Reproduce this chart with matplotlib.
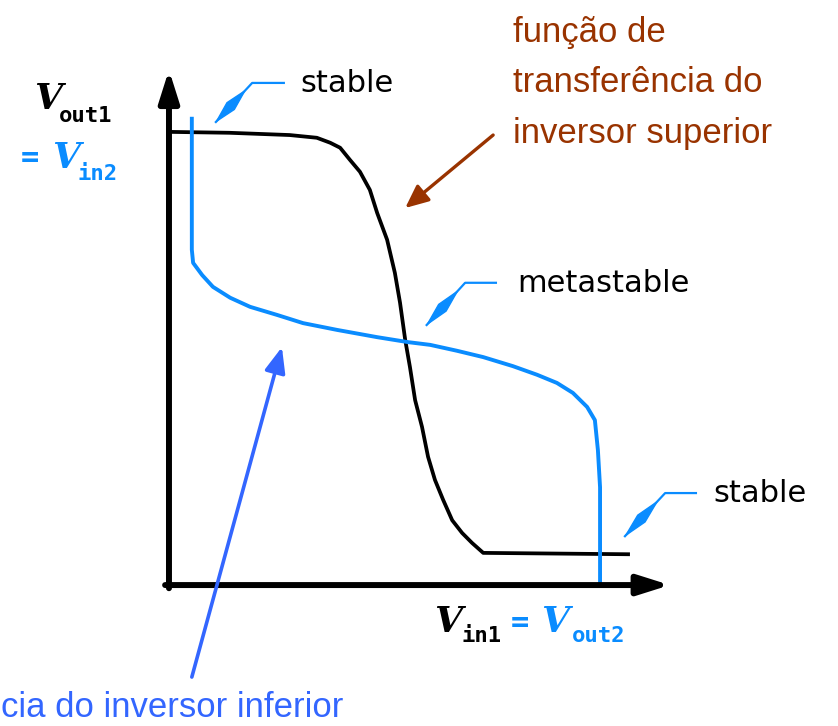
import matplotlib.pyplot as plt
from matplotlib.patches import Polygon
from matplotlib.transforms import IdentityTransform
import numpy as np

# upper inverter: Vout1 as a function of Vin1 (normalised to Vdd = 1)
vin1 = [0.00, 0.14, 0.28, 0.343, 0.374, 0.397, 0.420, 0.443, 0.466, 0.483, 0.506, 0.524,
        0.536, 0.548, 0.559, 0.571, 0.587, 0.601, 0.617, 0.636, 0.657, 0.680, 0.703, 0.729, 1.065]
vout1 = [1.000, 0.998, 0.993, 0.987, 0.976, 0.965, 0.938, 0.912, 0.872, 0.821, 0.762, 0.689,
         0.623, 0.541, 0.481, 0.408, 0.349, 0.283, 0.232, 0.188, 0.143, 0.115, 0.093, 0.071, 0.068]

# lower inverter, mirrored: Vout2 on the x axis, Vin2 on the y axis
vout2 = [0.053, 0.053, 0.056, 0.077, 0.102, 0.142, 0.188, 0.251, 0.311, 0.390, 0.483, 0.555,
         0.606, 0.668, 0.729, 0.798, 0.854, 0.900, 0.937, 0.970, 0.988, 0.995, 1.000, 1.000]
vin2 = [1.029, 0.740, 0.711, 0.684, 0.658, 0.634, 0.614, 0.596, 0.578, 0.563, 0.547, 0.536,
        0.530, 0.517, 0.503, 0.483, 0.464, 0.446, 0.424, 0.393, 0.364, 0.298, 0.216, 0.000]

label_upper = ["função de", "transferência do", "inversor superior"]
label_lower = "cia do inversor inferior"

CURVE_BLUE = "#0A8CFF"
ARROW_BLUE = "#3366FF"
BROWN = "#993300"


def callout(ax, tip, elbow, end, color=CURVE_BLUE):
    """Bent pointer line with a spindle-shaped blade near the tip."""
    ax.plot([end[0], elbow[0], tip[0]], [end[1], elbow[1], tip[1]],
            color=color, lw=1.6, solid_capstyle="butt")
    t = np.array(ax.transData.transform(tip))
    e = np.array(ax.transData.transform(elbow))
    d = e - t
    n = np.array([-d[1], d[0]]) / np.hypot(*d)
    pts = [t + 0.04 * d, t + 0.42 * d + 5.0 * n, t + 0.80 * d, t + 0.42 * d - 5.0 * n]
    ax.add_patch(Polygon(pts, closed=True, color=color, transform=IdentityTransform()))


fig = plt.figure(figsize=(8.38, 7.26), dpi=100)
ax = fig.add_axes([0, 0, 1, 1])
ax.set_xlim(-0.392, 1.552)
ax.set_ylim(-0.311, 1.291)
ax.axis("off")

# axes drawn as arrows
arrow = dict(arrowstyle="-|>,head_length=0.95,head_width=0.3", lw=4.3, color="black",
             shrinkA=0, shrinkB=0, mutation_scale=20)
ax.annotate("", xy=(0.0, 1.137), xytext=(0.0, -0.007), arrowprops=arrow)
ax.annotate("", xy=(1.162, 0.0), xytext=(-0.009, 0.0), arrowprops=arrow)

ax.plot(vin1, vout1, color="black", lw=2.7, solid_joinstyle="round")
ax.plot(vout2, vin2, color=CURVE_BLUE, lw=2.8, solid_joinstyle="round")

# axis labels
serif = dict(family="DejaVu Serif", weight="bold", style="italic", fontsize=26, va="baseline")
mono = dict(family="DejaVu Sans Mono", weight="bold", fontsize=16, va="baseline")
ax.text(-0.312, 1.051, "V", color="black", **serif)
ax.text(-0.255, 1.022, "out1", color="black", **mono)
ax.text(-0.345, 0.943, "=", color=CURVE_BLUE, family="DejaVu Sans Mono", weight="bold",
        fontsize=22, va="center")
ax.text(-0.272, 0.921, "V", color=CURVE_BLUE, **serif)
ax.text(-0.213, 0.894, "in2", color=CURVE_BLUE, **mono)

ax.text(0.616, -0.104, "V", color="black", **serif)
ax.text(0.678, -0.126, "in1", color="black", **mono)
ax.text(0.792, -0.082, "=", color=CURVE_BLUE, family="DejaVu Sans Mono", weight="bold",
        fontsize=22, va="center")
ax.text(0.864, -0.104, "V", color=CURVE_BLUE, **serif)
ax.text(0.935, -0.126, "out2", color=CURVE_BLUE, **mono)

# operating points
note = dict(family="DejaVu Sans", fontsize=22, color="black", va="baseline")
ax.text(0.304, 1.088, "stable", **note)
ax.text(0.807, 0.647, "metastable", **note)
ax.text(1.262, 0.183, "stable", **note)
callout(ax, (0.107, 1.020), (0.193, 1.108), (0.269, 1.108))
callout(ax, (0.596, 0.572), (0.687, 0.667), (0.761, 0.667))
callout(ax, (1.056, 0.106), (1.151, 0.203), (1.225, 0.203))

# curve names
for i, line in enumerate(label_upper):
    ax.text(0.798, 1.199 - 0.112 * i, line, family="Liberation Sans", fontsize=25,
            color=BROWN, va="baseline")
ax.annotate("", xy=(0.548, 0.832), xytext=(0.752, 0.993),
            arrowprops=dict(arrowstyle="-|>,head_length=1.0,head_width=0.45", lw=2.4,
                            color=BROWN, shrinkA=0, shrinkB=0, mutation_scale=14))

ax.text(0.404, -0.291, label_lower, family="Liberation Sans", fontsize=25,
        color=ARROW_BLUE, va="baseline", ha="right")
ax.annotate("", xy=(0.262, 0.525), xytext=(0.053, -0.203),
            arrowprops=dict(arrowstyle="-|>,head_length=1.1,head_width=0.45", lw=2.6,
                            color=ARROW_BLUE, shrinkA=0, shrinkB=0, mutation_scale=14))

fig.savefig("out.png", dpi=100)
